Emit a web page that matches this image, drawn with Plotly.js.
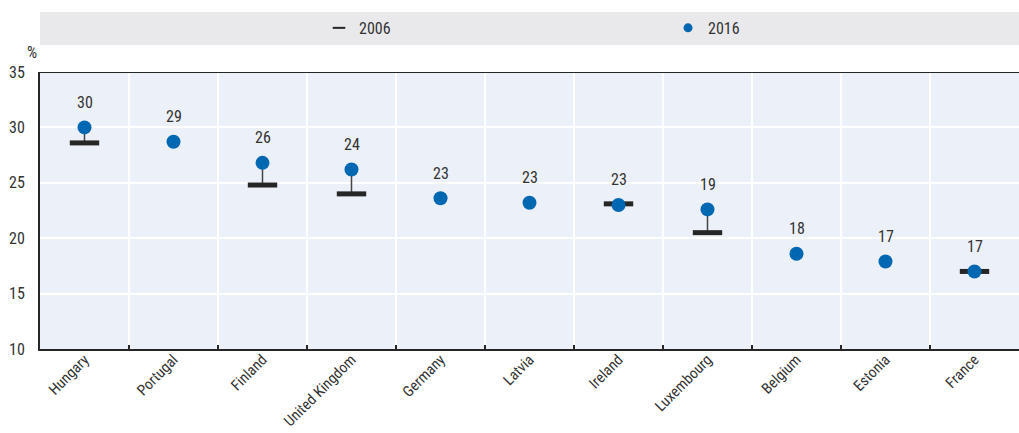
<!DOCTYPE html>
<html>
<head>
<meta charset="utf-8">
<script src="https://cdn.plot.ly/plotly-3.0.1.min.js"></script>
<style>html,body{margin:0;padding:0;background:#fff;}#chart{width:1019px;height:433px;}</style>
</head>
<body>
<div id="chart"></div>
<script>
var countries = ['Hungary','Portugal','Finland','United Kingdom','Germany','Latvia','Ireland','Luxembourg','Belgium','Estonia','France'];
var v2016 = [30.0, 28.7, 26.8, 26.2, 23.6, 23.2, 23.0, 22.6, 18.6, 17.9, 17.0];
var v2006 = [28.6, null, 24.8, 24.0, null, null, 23.1, 20.5, null, null, 17.0];
var labels = ['30','29','26','24','23','23','23','19','18','17','17'];
var yTicks = [10, 15, 20, 25, 30, 35];

var FONT = '"Roboto Condensed", "Liberation Sans Narrow", sans-serif';
var TXT = '#333333';
var BLUE = '#0068b2';
var DARK = '#262626';

// connector segments between 2006 and 2016
var cx = [], cy = [];
countries.forEach(function (c, i) {
  if (v2006[i] !== null) { cx.push(c, c, null); cy.push(v2006[i], v2016[i], null); }
});

var traces = [
  {x: cx, y: cy, type: 'scatter', mode: 'lines', line: {color: '#444', width: 1.5},
   showlegend: false, hoverinfo: 'skip'},
  {x: countries, y: v2006, type: 'scatter', mode: 'markers', name: '2006', showlegend: false,
   marker: {symbol: 'line-ew', size: 21, color: DARK, line: {color: DARK, width: 5}}},
  {x: countries, y: v2016, type: 'scatter', mode: 'markers', name: '2016', showlegend: false,
   marker: {symbol: 'circle', size: 14, color: BLUE, line: {width: 0}}},
  // legend entries
  {x: [null], y: [null], type: 'scatter', mode: 'markers', name: '2006', legend: 'legend',
   marker: {symbol: 'line-ew', size: 9, color: DARK, line: {color: DARK, width: 2}}},
  {x: [null], y: [null], type: 'scatter', mode: 'markers', name: '2016', legend: 'legend2',
   marker: {symbol: 'circle', size: 9, color: BLUE}}
];

var annotations = countries.map(function (c, i) {
  return {x: c, y: v2016[i], text: labels[i], showarrow: false, yshift: 25,
          font: {family: FONT, size: 16, color: TXT}};
});
annotations.push({xref: 'paper', yref: 'paper', x: -0.008, y: 1.072, text: '%', showarrow: false,
  xanchor: 'center', yanchor: 'middle', font: {family: FONT, size: 16, color: TXT}});

var legendBase = {orientation: 'h', xanchor: 'left', y: 1.159, yanchor: 'middle',
  bgcolor: 'rgba(0,0,0,0)', itemwidth: 30, font: {family: FONT, size: 16, color: TXT}};

var layout = {
  width: 1019, height: 433,
  margin: {l: 40, r: 0, t: 72, b: 84},
  paper_bgcolor: '#ffffff',
  plot_bgcolor: '#ecf0f8',
  font: {family: FONT, size: 16, color: TXT},
  xaxis: {type: 'category', categoryorder: 'array', categoryarray: countries,
    range: [-0.5, countries.length - 0.5], tickson: 'boundaries',
    showgrid: true, gridcolor: '#ffffff', gridwidth: 2,
    showline: true, linecolor: DARK, linewidth: 2,
    ticks: 'inside', ticklen: 4, tickcolor: DARK, tickwidth: 1.5, ticklabelstandoff: -6,
    tickangle: -45, tickfont: {family: FONT, size: 15, color: TXT}, fixedrange: true,
    automargin: false},
  yaxis: {range: [10, 35], tickvals: yTicks, ticktext: yTicks.map(String),
    showgrid: true, gridcolor: '#ffffff', gridwidth: 2, zeroline: false,
    showline: true, linecolor: DARK, linewidth: 2, ticks: '', ticklabelstandoff: 10,
    tickfont: {family: FONT, size: 16, color: TXT}, fixedrange: true, automargin: false},
  shapes: [
    {type: 'rect', xref: 'paper', yref: 'paper', x0: 0, x1: 1, y0: 1.0975, y1: 1.2166,
     fillcolor: '#e9e9eb', line: {width: 0}, layer: 'below'},
    {type: 'line', xref: 'paper', yref: 'y', x0: 0, x1: 1, y0: 35, y1: 35,
     line: {color: DARK, width: 2}}
  ],
  legend: Object.assign({}, legendBase, {x: 0.285}),
  legend2: Object.assign({}, legendBase, {x: 0.6415}),
  annotations: annotations,
  showlegend: true
};

Plotly.newPlot('chart', traces, layout, {displayModeBar: false, staticPlot: true});
</script>
</body>
</html>
